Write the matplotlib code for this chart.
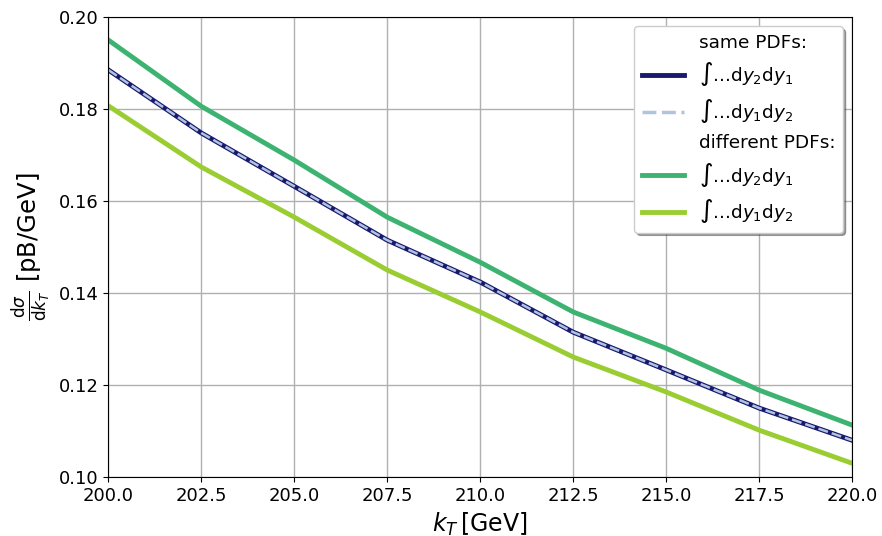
import matplotlib
matplotlib.use("Agg")
import matplotlib.pyplot as plt
from matplotlib.lines import Line2D

kT = [200.0, 202.5, 205.0, 207.5, 210.0, 212.5, 215.0, 217.5, 220.0]
same_21 = [0.1885, 0.1748, 0.1632, 0.1515, 0.1424, 0.1315, 0.1233, 0.1150, 0.1080]
same_12 = [0.1885, 0.1748, 0.1632, 0.1515, 0.1424, 0.1315, 0.1233, 0.1150, 0.1080]
diff_21 = [0.1950, 0.1806, 0.1689, 0.1565, 0.1467, 0.1359, 0.1280, 0.1189, 0.1113]
diff_12 = [0.1807, 0.1674, 0.1565, 0.1450, 0.1359, 0.1261, 0.1185, 0.1102, 0.1030]

fig, ax = plt.subplots(figsize=(8.82, 5.36), dpi=100)
fig.subplots_adjust(left=0.123, right=0.966, top=0.968, bottom=0.11)

c_navy = "#191970"
c_light = "#b0c4de"
c_green = "#3cb371"
c_lime = "#9acd32"

ax.plot(kT, diff_21, color=c_green, lw=3.5)
ax.plot(kT, diff_12, color=c_lime, lw=3.5)
ax.plot(kT, same_21, color=c_navy, lw=3.5)
ax.plot(kT, same_12, color=c_light, lw=1.8, ls=(0, (4, 1.6)))

ax.set_xlim(200, 220)
ax.set_ylim(0.10, 0.20)
ax.set_xticks([200, 202.5, 205, 207.5, 210, 212.5, 215, 217.5, 220])
ax.set_xticklabels(["200.0", "202.5", "205.0", "207.5", "210.0", "212.5", "215.0", "217.5", "220.0"])
ax.set_yticks([0.10, 0.12, 0.14, 0.16, 0.18, 0.20])
ax.set_yticklabels(["0.10", "0.12", "0.14", "0.16", "0.18", "0.20"])
ax.tick_params(labelsize=13)
ax.grid(True, color="#b0b0b0", lw=1)
ax.set_axisbelow(True)

ax.set_xlabel(r"$k_T\,$[GeV]", fontsize=17)
ax.set_ylabel(r"$\frac{\mathrm{d}\sigma}{\mathrm{d}k_T}$ [pB/GeV]", fontsize=17.5)

blank = Line2D([], [], color="none")
handles = [
    blank,
    Line2D([], [], color=c_navy, lw=3.5),
    Line2D([], [], color=c_light, lw=2.5, ls=(0, (4, 1.6))),
    blank,
    Line2D([], [], color=c_green, lw=3.5),
    Line2D([], [], color=c_lime, lw=3.5),
]
labels = [
    "same PDFs:",
    r"$\int$...d$y_2$d$y_1$",
    r"$\int$...d$y_1$d$y_2$",
    "different PDFs:",
    r"$\int$...d$y_2$d$y_1$",
    r"$\int$...d$y_1$d$y_2$",
]
ax.legend(handles, labels, loc="upper right", fontsize=13.3, shadow=True,
          fancybox=True, framealpha=1, borderpad=0.4, handlelength=2.3,
          labelspacing=0.47)

fig.savefig("out.png", dpi=100)
